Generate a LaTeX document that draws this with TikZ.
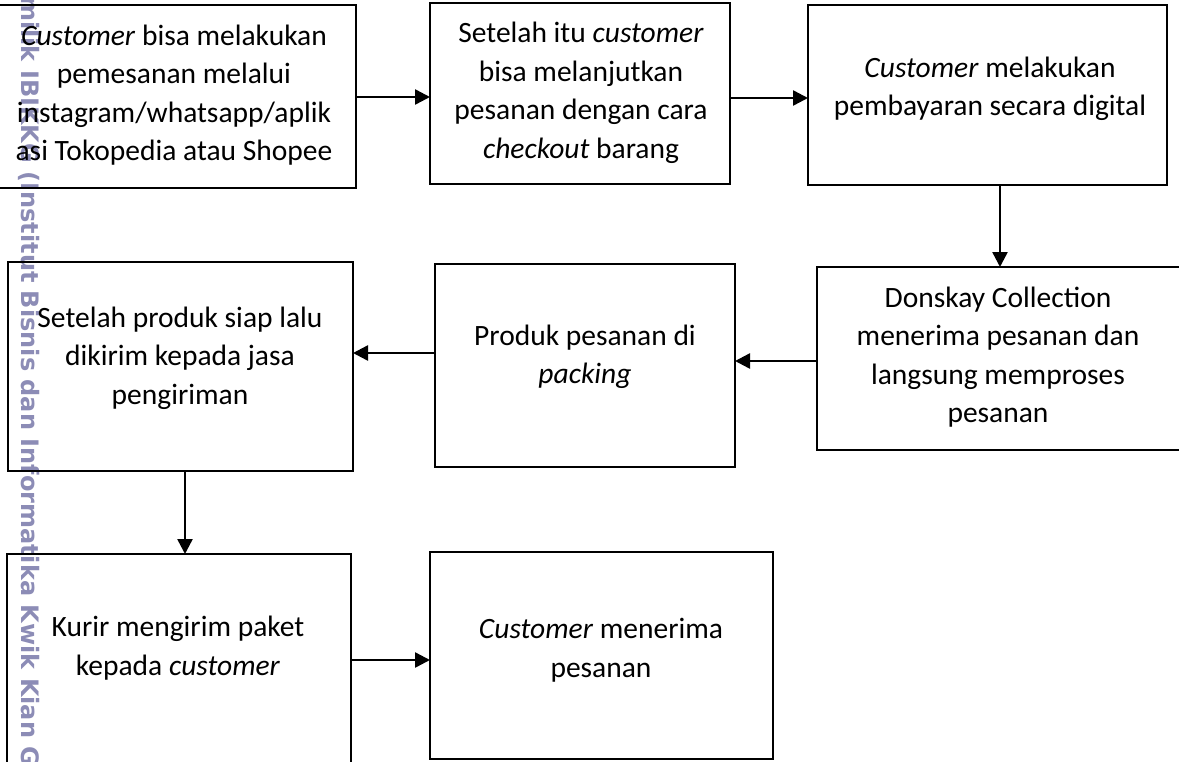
\documentclass[tikz,border=0pt]{standalone}
\usepackage{fontspec}
\setmainfont{Carlito}
\newfontfamily\wmfont{DejaVu Sans}
\usetikzlibrary{arrows.meta}
\definecolor{wmcol}{RGB}{140,140,182}
\tikzset{
  box/.style={draw=black, line width=2pt, inner sep=0pt, outer sep=0pt, rectangle},
  txt/.style={font=\fontsize{29.5}{38.5}\selectfont, align=center, inner sep=0pt},
  arr/.style={line width=2.5pt, -{Triangle[length=15pt,width=15pt]}},
}
\begin{document}
\begin{tikzpicture}[x=1pt,y=-1pt]
\useasboundingbox (0,0) rectangle (1179,761);
% watermark
\node[font=\wmfont\bfseries\fontsize{24}{24}\selectfont, text=wmcol, rotate=-90, anchor=west, inner sep=0pt] (wm) at (29,-4) {milik IBIKKG (Institut Bisnis dan Informatika Kwik Kian G};
% boxes
\node[box, minimum width=359, minimum height=183] (b1) at (176.5,96.5) {};
\node[box, minimum width=300, minimum height=181] (b2) at (580,93.5) {};
\node[box, minimum width=359, minimum height=180] (b3) at (987.5,95) {};
\node[box, minimum width=364, minimum height=183] (b4) at (999,358.5) {};
\node[box, minimum width=300, minimum height=203] (b5) at (585,365.5) {};
\node[box, minimum width=345, minimum height=209] (b6) at (180.5,366.5) {};
\node[box, minimum width=344, minimum height=236] (b7) at (179,672) {};
\node[box, minimum width=343, minimum height=207] (b8) at (601.5,655.5) {};
% texts
\node[txt] (t1) at (174,95) {\textit{Customer} bisa melakukan\\pemesanan melalui\\instagram/whatsapp/aplik\\asi Tokopedia atau Shopee};
\node[txt] (t2) at (581,93) {Setelah itu \textit{customer}\\bisa melanjutkan\\pesanan dengan cara\\\textit{checkout} barang};
\node[txt] (t3) at (990,89) {\textit{Customer} melakukan\\pembayaran secara digital};
\node[txt] (t4) at (998,357) {Donskay Collection\\menerima pesanan dan\\langsung memproses\\pesanan};
\node[txt] (t5) at (585,357) {Produk pesanan di\\\textit{packing}};
\node[txt] (t6) at (180,358) {Setelah produk siap lalu\\dikirim kepada jasa\\pengiriman};
\node[txt] (t7) at (178,648) {Kurir mengirim paket\\kepada \textit{customer}};
\node[txt] (t8) at (601,650) {\textit{Customer} menerima\\pesanan};
% arrows
\draw[arr] (b1.east |- 0,97) -- (b2.west |- 0,97);
\draw[arr] (b2.east |- 0,98) -- (b3.west |- 0,98);
\draw[arr] (b3.south -| 1000,0) -- (b4.north -| 1000,0);
\draw[arr] (b4.west |- 0,361) -- (b5.east |- 0,361);
\draw[arr] (b5.west |- 0,353) -- (b6.east |- 0,353);
\draw[arr] (b6.south -| 185,0) -- (b7.north -| 185,0);
\draw[arr] (b7.east |- 0,660) -- (b8.west |- 0,660);
\end{tikzpicture}
\end{document}
